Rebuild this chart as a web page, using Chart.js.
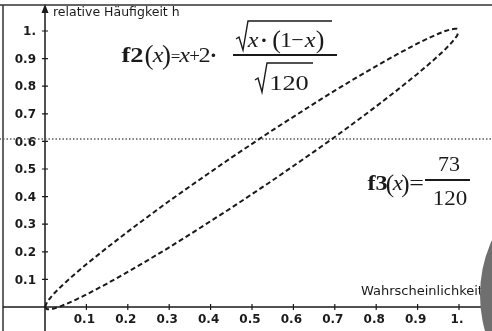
<!DOCTYPE html>
<html>
<head>
<meta charset="utf-8">
<script src="https://cdn.jsdelivr.net/npm/chart.js@4"></script>
<style>
  html, body { margin: 0; padding: 0; background: #fff; }
  #wrap { width: 492px; height: 331px; }
</style>
</head>
<body>
<div id="wrap"><canvas id="c" width="492" height="331"></canvas></div>
<script>
// x values (probability axis)
const xs = [0, 0.005, 0.01, 0.02, 0.035, 0.05, 0.075, 0.1, 0.15, 0.2, 0.25, 0.3, 0.35, 0.4, 0.45, 0.5,
  0.55, 0.6, 0.65, 0.7, 0.75, 0.8, 0.85, 0.9, 0.925, 0.95, 0.965, 0.98, 0.99, 0.995, 1];

// upper dashed curve f2
const f2Vals = [0, 0.018, 0.028, 0.046, 0.069, 0.090, 0.123, 0.155, 0.215, 0.273, 0.329, 0.384, 0.437, 0.489, 0.541, 0.591,
  0.641, 0.689, 0.737, 0.784, 0.829, 0.873, 0.915, 0.955, 0.973, 0.990, 0.999, 1.006, 1.008, 1.008, 1];

// lower dashed curve f1
const f1Vals = [0, -0.008, -0.008, -0.006, 0.001, 0.010, 0.027, 0.045, 0.085, 0.127, 0.171, 0.216, 0.263, 0.311, 0.359, 0.409,
  0.459, 0.511, 0.563, 0.616, 0.671, 0.727, 0.785, 0.845, 0.877, 0.910, 0.931, 0.954, 0.972, 0.982, 1];

// horizontal dotted line f3 = 73/120
const f3X = [-0.11, 1.08];
const f3Val = 73 / 120;

const xTickVals = [0.1, 0.2, 0.3, 0.4, 0.5, 0.6, 0.7, 0.8, 0.9, 1];
const xTickLabels = ["0.1", "0.2", "0.3", "0.4", "0.5", "0.6", "0.7", "0.8", "0.9", "1."];
const yTickVals = [0.1, 0.2, 0.3, 0.4, 0.5, 0.6, 0.7, 0.8, 0.9, 1];
const yTickLabels = ["0.1", "0.2", "0.3", "0.4", "0.5", "0.6", "0.7", "0.8", "0.9", "1."];

const yTitle = "relative Häufigkeit h";
const xTitle = "Wahrscheinlichkeit";

const SERIF = '"Liberation Serif", "Times New Roman", serif';
const SANS = '"DejaVu Sans", sans-serif';
const INK = "#1a1a1a";

const pts = (ys) => xs.map((x, i) => ({ x, y: ys[i] }));

// text helper, optional horizontal stretch sx
function txt(ctx, s, x, y, font, align = "left", base = "alphabetic", sx = 1) {
  ctx.save();
  ctx.font = font;
  ctx.textAlign = align;
  ctx.textBaseline = base;
  ctx.translate(x, y);
  ctx.scale(sx, 1);
  ctx.fillText(s, 0, 0);
  ctx.restore();
}
// centred math glyph
const m = (ctx, s, cx, y, font, sx = 1) => txt(ctx, s, cx, y, font, "center", "alphabetic", sx);

function radical(ctx, x0, yMid, yBot, xTop, yTop, xEnd) {
  ctx.beginPath();
  ctx.moveTo(x0, yMid + 2);
  ctx.lineTo(x0 + 3, yMid);
  ctx.lineTo(x0 + 7, yBot);
  ctx.lineTo(xTop, yTop);
  ctx.lineTo(xEnd, yTop);
  ctx.stroke();
}

// axes, ticks, labels, formulas
const decor = {
  id: "decor",
  beforeDatasetsDraw(chart) {
    const { ctx, scales: { x, y }, width, height } = chart;
    const x0 = x.getPixelForValue(0), y0 = y.getPixelForValue(0);
    ctx.save();
    ctx.strokeStyle = "#333";
    ctx.lineWidth = 1.5;
    // frame top/left
    ctx.beginPath();
    ctx.moveTo(0, 5); ctx.lineTo(width, 5);
    ctx.moveTo(3, 5); ctx.lineTo(3, height);
    ctx.stroke();

    ctx.strokeStyle = INK;
    ctx.beginPath();
    ctx.moveTo(3, y0); ctx.lineTo(width, y0);
    ctx.moveTo(x0, 8); ctx.lineTo(x0, height);
    ctx.stroke();
    // arrow head
    ctx.fillStyle = INK;
    ctx.beginPath();
    ctx.moveTo(x0, 4); ctx.lineTo(x0 - 3.5, 13); ctx.lineTo(x0 + 3.5, 13);
    ctx.closePath(); ctx.fill();

    ctx.lineWidth = 1.2;
    ctx.beginPath();
    xTickVals.forEach(v => { const p = x.getPixelForValue(v); ctx.moveTo(p, y0 - 3); ctx.lineTo(p, y0 + 3); });
    yTickVals.forEach(v => { const p = y.getPixelForValue(v); ctx.moveTo(x0 - 3, p); ctx.lineTo(x0 + 3, p); });
    ctx.stroke();

    ctx.fillStyle = INK;
    xTickLabels.forEach((s, i) => txt(ctx, s, x.getPixelForValue(xTickVals[i]) - 2, y0 + 7, "bold 12px " + SANS, "center", "top"));
    yTickLabels.forEach((s, i) => txt(ctx, s, x0 - 9, y.getPixelForValue(yTickVals[i]) + 1, "bold 12px " + SANS, "right", "middle"));

    txt(ctx, yTitle, x0 + 8, 16, "12.5px " + SANS);
    txt(ctx, xTitle, 361, 295, "13px " + SANS);
    ctx.restore();
  },
  afterDraw(chart) {
    const { ctx } = chart;
    ctx.save();
    ctx.fillStyle = INK;
    ctx.strokeStyle = INK;
    const F = (w, s) => w + " " + s + "px " + SERIF;

    // f2(x) = x + 2 * sqrt(x(1-x)) / sqrt(120)
    m(ctx, "f2", 132.5, 62, F("bold", 22), 1.2);
    m(ctx, "(", 149, 64, F("normal", 27));
    m(ctx, "x", 158, 62, F("italic", 22), 1.1);
    m(ctx, ")", 166.5, 64, F("normal", 27));
    m(ctx, "=", 175.5, 62, F("normal", 17));
    m(ctx, "x", 184.5, 62, F("italic", 22), 1.1);
    m(ctx, "+", 194.5, 62, F("normal", 19));
    m(ctx, "2", 204.5, 62, F("normal", 22), 1.1);
    m(ctx, "·", 213.5, 62, F("bold", 22));
    ctx.lineWidth = 2;
    ctx.beginPath(); ctx.moveTo(233, 55); ctx.lineTo(337, 55); ctx.stroke();
    ctx.lineWidth = 1.4;
    radical(ctx, 236, 37, 50, 248, 21, 332);
    m(ctx, "x", 253, 47, F("italic", 22), 1.1);
    m(ctx, "·", 264, 47, F("bold", 22));
    m(ctx, "(", 276.5, 48, F("normal", 26));
    m(ctx, "1", 286, 47, F("normal", 22), 1.1);
    m(ctx, "−", 297.5, 47, F("normal", 22));
    m(ctx, "x", 310, 47, F("italic", 22), 1.1);
    m(ctx, ")", 320, 48, F("normal", 26));
    radical(ctx, 255, 78, 92, 267, 63, 313);
    m(ctx, "120", 289, 90, F("normal", 22), 1.2);

    // f3(x) = 73/120
    m(ctx, "f3", 377.5, 190, F("bold", 21), 1.15);
    m(ctx, "(", 390, 192, F("normal", 25));
    m(ctx, "x", 398, 190, F("italic", 21), 1.1);
    m(ctx, ")", 405.5, 192, F("normal", 25));
    m(ctx, "=", 416.5, 190, F("normal", 20), 1.3);
    ctx.lineWidth = 2;
    ctx.beginPath(); ctx.moveTo(425, 180); ctx.lineTo(470, 180); ctx.stroke();
    m(ctx, "73", 449, 171, F("normal", 20), 1.1);
    m(ctx, "120", 450, 205, F("normal", 20), 1.15);

    // grey disc at the lower right edge
    ctx.fillStyle = "#6f6f6f";
    ctx.beginPath(); ctx.arc(612, 295, 132, 0, Math.PI * 2); ctx.fill();
    ctx.restore();
  }
};

new Chart(document.getElementById("c"), {
  type: "scatter",
  data: {
    datasets: [
      {
        label: "f2",
        data: pts(f2Vals),
        showLine: true,
        borderColor: INK,
        borderWidth: 2,
        borderDash: [5, 3],
        pointRadius: 0,
        tension: 0
      },
      {
        label: "f1",
        data: pts(f1Vals),
        showLine: true,
        borderColor: INK,
        borderWidth: 2,
        borderDash: [5, 3],
        pointRadius: 0,
        tension: 0
      },
      {
        label: "f3",
        data: f3X.map(x => ({ x, y: f3Val })),
        showLine: true,
        borderColor: "#555",
        borderWidth: 1.5,
        borderDash: [1.5, 2],
        pointRadius: 0
      }
    ]
  },
  options: {
    responsive: false,
    animation: false,
    layout: { padding: 0 },
    plugins: { legend: { display: false }, tooltip: { enabled: false } },
    scales: {
      x: { type: "linear", display: false, min: -45 / 414, max: 447 / 414 },
      y: { type: "linear", display: false, min: -24 / 276, max: 307 / 276 }
    }
  },
  plugins: [decor]
});
</script>
</body>
</html>
